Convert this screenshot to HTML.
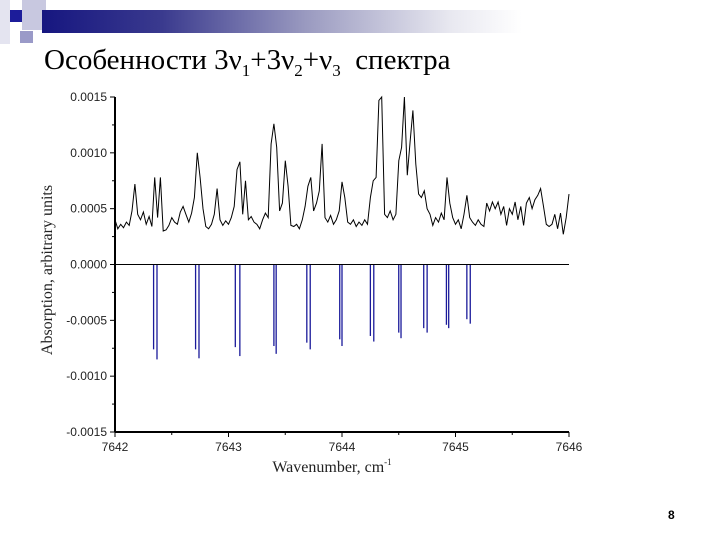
<!DOCTYPE html>
<html><head><meta charset="utf-8"><style>
body{margin:0;width:720px;height:540px;background:#fff;overflow:hidden;position:relative;font-family:"Liberation Sans",sans-serif}
.abs{position:absolute}
</style></head><body>
<div class="abs" style="left:0;top:0;width:10px;height:44px;background:#e4e4f0"></div>
<div class="abs" style="left:22px;top:0;width:24px;height:30px;background:#c8c8e0"></div>
<div class="abs" style="left:10px;top:10px;width:12px;height:12px;background:#1c1c9a"></div>
<div class="abs" style="left:20px;top:31px;width:13px;height:12px;background:#9a9ac8"></div>
<div class="abs" style="left:42px;top:10px;width:480px;height:23px;background:linear-gradient(to right,#161680,#3a3a8e 25%,#9a9ac0 55%,#e8e8f0 85%,#fff)"></div>
<div class="abs" style="left:44px;top:44px;font-family:'Liberation Serif','Noto Serif CJK SC',serif;font-size:29px;color:#000;white-space:nowrap">Особенности 3ν<sub style="font-size:17px">1</sub>+3ν<sub style="font-size:17px">2</sub>+ν<sub style="font-size:17px">3</sub>&nbsp; спектра</div>
<div class="abs" style="left:668px;top:508px;font-size:12px;font-weight:bold">8</div>
<svg class="abs" style="left:0;top:0" width="720" height="540" id="chart"></svg>
<script>
const xTicks=[7642,7643,7644,7645,7646];
const yTicks=[0.0015,0.0010,0.0005,0.0000,-0.0005,-0.0010,-0.0015];
const yTickLabels=["0.0015","0.0010","0.0005","0.0000","-0.0005","-0.0010","-0.0015"];
const specStart=7642, specStep=0.025;
const specValues=[0.00040,0.00032,0.00036,0.00033,0.00038,0.00035,0.00048,0.00072,0.00045,0.00040,0.00047,0.00036,0.00043,0.00034,0.00078,0.00042,0.00078,0.00030,0.00031,0.00035,0.00042,0.00038,0.00036,0.00047,0.00052,0.00045,0.00038,0.00046,0.00060,0.00100,0.00078,0.00050,0.00034,0.00032,0.00036,0.00045,0.00068,0.00040,0.00035,0.00039,0.00036,0.00042,0.00052,0.00085,0.00092,0.00045,0.00075,0.00040,0.00043,0.00038,0.00036,0.00032,0.00040,0.00046,0.00042,0.00108,0.00126,0.00105,0.00048,0.00055,0.00093,0.00070,0.00035,0.00034,0.00036,0.00032,0.00040,0.00052,0.00070,0.00078,0.00048,0.00055,0.00066,0.00108,0.00042,0.00038,0.00044,0.00036,0.00040,0.00048,0.00074,0.00060,0.00038,0.00036,0.00040,0.00034,0.00038,0.00035,0.00040,0.00036,0.00060,0.00075,0.00078,0.00147,0.00150,0.00045,0.00042,0.00048,0.00040,0.00045,0.00093,0.00105,0.00150,0.00080,0.00110,0.00138,0.00090,0.00063,0.00060,0.00066,0.00050,0.00045,0.00035,0.00042,0.00038,0.00046,0.00040,0.00078,0.00055,0.00042,0.00036,0.00040,0.00032,0.00045,0.00062,0.00042,0.00038,0.00035,0.00040,0.00036,0.00034,0.00055,0.00048,0.00056,0.00050,0.00056,0.00045,0.00052,0.00035,0.00050,0.00045,0.00056,0.00040,0.00052,0.00035,0.00055,0.00060,0.00050,0.00058,0.00062,0.00068,0.00052,0.00036,0.00034,0.00036,0.00045,0.00032,0.00046,0.00027,0.00042,0.00063];
const stickPos=[7642.34,7642.37,7642.71,7642.74,7643.06,7643.10,7643.40,7643.42,7643.69,7643.72,7643.98,7644.00,7644.25,7644.28,7644.50,7644.52,7644.72,7644.75,7644.92,7644.94,7645.10,7645.13];
const stickVal=[-0.00076,-0.00085,-0.00076,-0.00084,-0.00074,-0.00082,-0.00073,-0.00080,-0.00070,-0.00076,-0.00067,-0.00073,-0.00064,-0.00069,-0.00061,-0.00066,-0.00057,-0.00061,-0.00054,-0.00057,-0.00049,-0.00053];
const svg=document.getElementById('chart'),NS='http://www.w3.org/2000/svg';
const X0=115,X1=569,Y0=97,Y1=432;
const sx=v=>X0+(v-7642)/4*(X1-X0);
const sy=v=>Y0+(0.0015-v)/0.003*(Y1-Y0);
function mk(t,a){const e=document.createElementNS(NS,t);for(const k in a)e.setAttribute(k,a[k]);svg.appendChild(e);return e;}
let d='';specValues.forEach((v,i)=>{d+=(i?'L':'M')+sx(specStart+i*specStep).toFixed(1)+','+sy(v).toFixed(1);});
const sp=mk('path',{d:d,fill:'none',stroke:'#000','stroke-width':1});


stickPos.forEach((p,i)=>{const l=mk('line',{x1:sx(p),x2:sx(p),y1:sy(0),y2:sy(stickVal[i]),stroke:'#1a1a9a','stroke-width':1.3});

});
const z=mk('line',{x1:X0,x2:X1,y1:sy(0),y2:sy(0),stroke:'#000','stroke-width':1});


const ya=mk('line',{x1:X0,x2:X0,y1:Y0,y2:Y1,stroke:'#000','stroke-width':2});


const xa=mk('line',{x1:X0,x2:X1,y1:Y1,y2:Y1,stroke:'#000','stroke-width':2});


yTicks.forEach((v,i)=>{mk('line',{x1:X0-5,x2:X0,y1:sy(v),y2:sy(v),stroke:'#000','stroke-width':1});
if(i<yTicks.length-1)mk('line',{x1:X0-3,x2:X0,y1:sy(v-0.00025),y2:sy(v-0.00025),stroke:'#000','stroke-width':1});
const t=mk('text',{x:X0-8,y:sy(v)+4,'text-anchor':'end','font-size':12,fill:'#222','font-family':'Liberation Sans,sans-serif'});t.textContent=yTickLabels[i];

});
xTicks.forEach((v,i)=>{mk('line',{x1:sx(v),x2:sx(v),y1:Y1,y2:Y1+5,stroke:'#000','stroke-width':1});
if(i<xTicks.length-1)mk('line',{x1:sx(v+0.5),x2:sx(v+0.5),y1:Y1,y2:Y1+3,stroke:'#000','stroke-width':1});
const t=mk('text',{x:sx(v),y:Y1+19,'text-anchor':'middle','font-size':12,fill:'#222','font-family':'Liberation Sans,sans-serif'});t.textContent=v;

});
const xt=mk('text',{x:332,y:472,'text-anchor':'middle','font-size':16,fill:'#222','font-family':'Liberation Serif,serif'});xt.innerHTML='Wavenumber, cm<tspan dy="-7" font-size="9">-1</tspan>';


const yt=mk('text',{x:0,y:0,'text-anchor':'middle','font-size':16,fill:'#222','font-family':'Liberation Serif,serif',transform:'translate(52,270) rotate(-90)'});yt.textContent='Absorption, arbitrary units';


</script>
</body></html>
